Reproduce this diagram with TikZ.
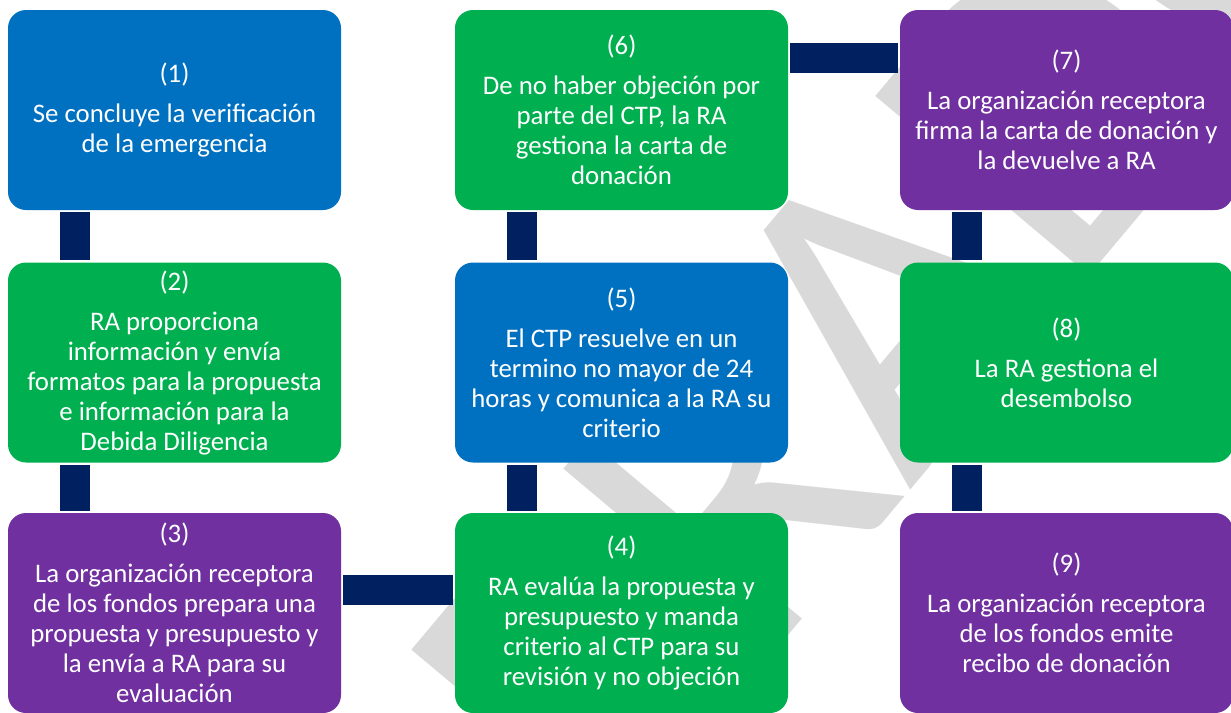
\documentclass[tikz,border=0pt]{standalone}
\usepackage{fontspec}
\setmainfont{Carlito}
\usetikzlibrary{positioning}
\definecolor{azulpaso}{RGB}{0,112,192}
\definecolor{verdepaso}{RGB}{0,176,80}
\definecolor{moradopaso}{RGB}{112,48,160}
\definecolor{azulmarino}{RGB}{0,32,96}
\definecolor{grismarca}{RGB}{217,217,217}

\begin{document}
\begin{tikzpicture}[x=1pt,y=-1pt,
  paso/.style={rectangle, rounded corners=18pt, minimum width=333pt, minimum height=200pt,
    inner sep=2pt, align=center, text=white, font=\fontsize{26.8}{30}\selectfont},
  barra/.style={azulmarino, line width=30pt, shorten >=2pt, shorten <=2pt}]
  \useasboundingbox (0,0) rectangle (1231,712);

  % marca de agua al fondo
  \node[text=grismarca, rotate=50, inner sep=0pt, font=\fontsize{435}{435}\selectfont] (marca) at (817,384) {BORRADOR};

  % pasos del proceso
  \node[paso, fill=azulpaso] (n1) at (174.5,110) {(1)\\[10pt]Se concluye la verificación\\de la emergencia};
  \node[paso, fill=verdepaso] (n2) at (174.5,362.5) {(2)\\[10pt]RA proporciona\\información y envía\\formatos para la propuesta\\e información para la\\Debida Diligencia};
  \node[paso, fill=moradopaso] (n3) at (174.5,613) {(3)\\[10pt]La organización receptora\\de los fondos prepara una\\propuesta y presupuesto y\\la envía a RA para su\\evaluación};
  \node[paso, fill=verdepaso] (n4) at (621.5,613) {(4)\\[10pt]RA evalúa la propuesta y\\presupuesto y manda\\criterio al CTP para su\\revisión y no objeción};
  \node[paso, fill=azulpaso] (n5) at (621.5,362.5) {(5)\\[10pt]El CTP resuelve en un\\termino no mayor de 24\\horas y comunica a la RA su\\criterio};
  \node[paso, fill=verdepaso] (n6) at (621.5,110) {(6)\\[10pt]De no haber objeción por\\parte del CTP, la RA\\gestiona la carta de\\donación};
  \node[paso, fill=moradopaso] (n7) at (1066.5,110) {(7)\\[10pt]La organización receptora\\firma la carta de donación y\\la devuelve a RA};
  \node[paso, fill=verdepaso] (n8) at (1066.5,362.5) {(8)\\[10pt]La RA gestiona el\\desembolso};
  \node[paso, fill=moradopaso] (n9) at (1066.5,613) {(9)\\[10pt]La organización receptora\\de los fondos emite\\recibo de donación};

  % barras de union
  \foreach \a/\b in {n1/n2,n2/n3,n6/n5,n5/n4,n7/n8,n8/n9}
    \draw[barra] ([xshift=67pt]\a.south west) -- ([xshift=67pt]\b.north west);
  \draw[barra] ([yshift=-77pt]n3.north east) -- ([yshift=-77pt]n4.north west);
  \draw[barra] ([yshift=-48pt]n6.north east) -- ([yshift=-48pt]n7.north west);
\end{tikzpicture}
\end{document}
